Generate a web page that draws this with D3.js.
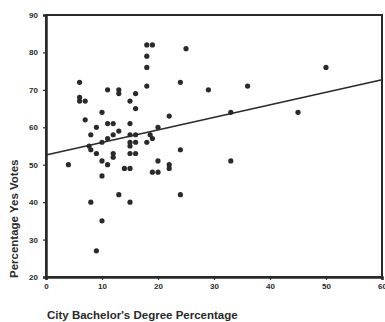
<!DOCTYPE html>
<html>
<head>
<meta charset="utf-8">
<script src="https://cdn.jsdelivr.net/npm/d3@7"></script>
<style>
  body { margin: 0; background: #fff; }
  svg { display: block; }
  text { font-family: "Liberation Sans", Arial, sans-serif; font-weight: bold; fill: #2a2a2a; }
</style>
</head>
<body>
<svg id="chart" width="385" height="322"></svg>
<script>
// bachelor's degree % for each city
var degreePct = [18, 19, 25, 18, 18, 6, 24, 18, 11, 13, 13, 16, 6, 6, 7, 15, 16, 10, 22, 7,
  9, 11, 12, 15, 20, 13, 8, 12, 15, 16, 18.6, 10, 11, 7.7, 8, 15, 16, 15, 18, 19,
  9, 12, 12, 15, 16, 24, 10, 20, 4, 11, 22, 22, 14, 15, 19, 20, 10, 13, 24, 8,
  15, 10, 9, 29, 36, 50, 33, 45, 33];
// yes vote % for each city
var yesPct = [82, 82, 81, 79, 76, 72, 72, 71, 70, 70, 69, 69, 68, 67, 67, 67, 65, 64, 63, 62,
  60, 61, 61, 61, 60, 59, 58, 58, 58, 58, 58, 56, 57, 55, 54, 56, 56, 55, 56, 57,
  53, 53, 52, 53, 53, 54, 51, 51, 50, 50, 50, 49, 49, 49, 48, 48, 47, 42, 42, 40,
  40, 35, 27, 70, 71, 76, 64, 64, 51];

var xTicks = [0, 10, 20, 30, 40, 50, 60];
var yTicks = [20, 30, 40, 50, 60, 70, 80, 90];

// fitted line
var fitStart = 52.6, fitEnd = 72.7;

var svg = d3.select("#chart");
var plotL = 46, plotR = 382, plotT = 15, plotB = 277;

var x = d3.scaleLinear().domain([0, 60]).range([plotL, plotR]);
var y = d3.scaleLinear().domain([20, 90]).range([plotB, plotT]);

var points = degreePct.map(function(d, i) { return { x: d, y: yesPct[i] }; });

// frame
svg.append("rect")
  .attr("x", plotL).attr("y", plotT)
  .attr("width", plotR - plotL).attr("height", plotB - plotT)
  .attr("fill", "none").attr("stroke", "#2a2a2a").attr("stroke-width", 2);

var xAxis = svg.append("g")
  .attr("transform", "translate(0," + plotB + ")")
  .call(d3.axisBottom(x).tickValues(xTicks).tickSize(3).tickPadding(3));
var yAxis = svg.append("g")
  .attr("transform", "translate(" + plotL + ",0)")
  .call(d3.axisLeft(y).tickValues(yTicks).tickSize(3).tickPadding(5));

[xAxis, yAxis].forEach(function(a) {
  a.select(".domain").attr("stroke", "#2a2a2a").attr("stroke-width", 2.5);
  a.selectAll(".tick line").attr("stroke", "#2a2a2a").attr("stroke-width", 1.2);
  a.selectAll(".tick text")
    .style("font-family", "Liberation Sans, Arial, sans-serif")
    .style("font-weight", "bold").style("font-size", "8px").attr("fill", "#2a2a2a");
});

// regression line
svg.append("line")
  .attr("x1", x(0)).attr("y1", y(fitStart))
  .attr("x2", x(60)).attr("y2", y(fitEnd))
  .attr("stroke", "#2a2a2a").attr("stroke-width", 1.6);

svg.append("g").selectAll("circle")
  .data(points)
  .enter().append("circle")
  .attr("cx", function(d) { return x(d.x); })
  .attr("cy", function(d) { return y(d.y); })
  .attr("r", 2.6)
  .attr("fill", "#2a2a2a");

// axis titles
svg.append("text")
  .attr("x", 47).attr("y", 319)
  .style("font-size", "11.5px")
  .text("City Bachelor's Degree Percentage");

svg.append("text")
  .attr("transform", "translate(18,278) rotate(-90)")
  .style("font-size", "11.5px")
  .text("Percentage Yes Votes");
</script>
</body>
</html>
